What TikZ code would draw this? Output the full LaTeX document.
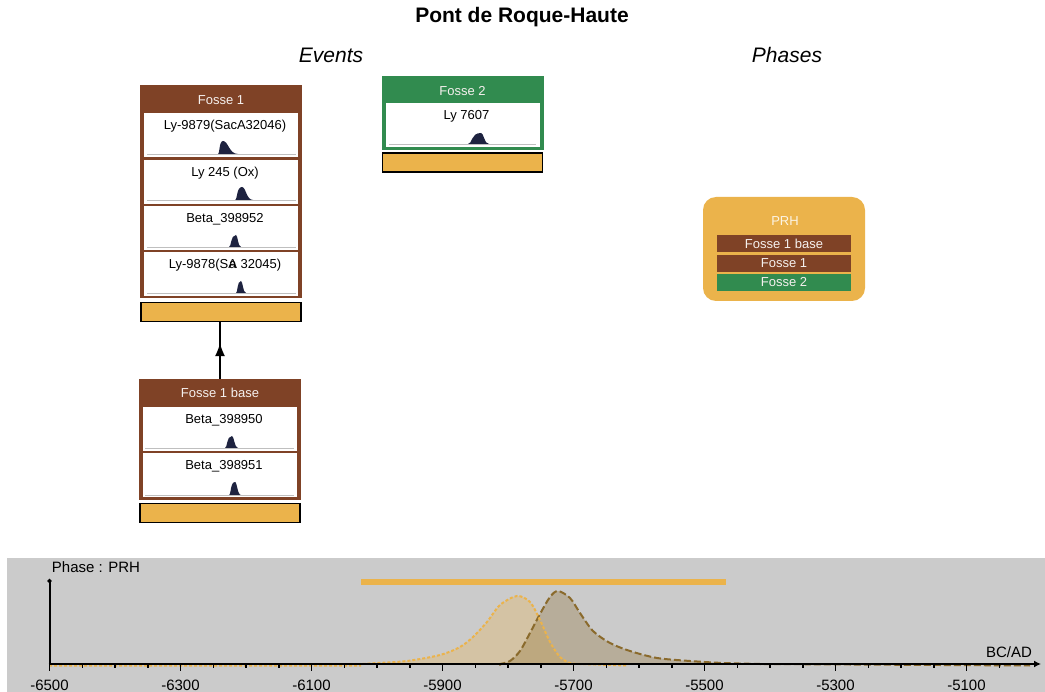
\documentclass[tikz,border=0pt]{standalone}
\usepackage{fontspec}
\setmainfont{Liberation Sans}
\usepackage{tikz}
\usetikzlibrary{arrows.meta,decorations.markings}
\definecolor{fossebrown}{HTML}{7F4226}
\definecolor{fossegreen}{HTML}{318B4F}
\definecolor{prhorange}{HTML}{EBB34B}
\definecolor{curvebrown}{HTML}{8A6A2C}
\definecolor{panelgray}{HTML}{CBCBCB}
\definecolor{densblue}{HTML}{1E2340}
% density: left, peak, right, baseline, height
\newcommand{\density}[5]{\fill[densblue] (#1,#4) .. controls ({#1+0.35*(#2-#1)},#4) and ({#1+0.2*(#2-#1)},{#4-#5}) .. (#2,{#4-#5}) .. controls ({#2+0.35*(#3-#2)},{#4-#5}) and ({#2+0.4*(#3-#2)},#4) .. (#3,#4) -- cycle;}

\begin{document}
\begin{tikzpicture}[x=1pt, y=-1pt, font=\fontsize{13}{15}\selectfont,
  frame/.style={inner sep=0, minimum width=162},
  head/.style={text=white!92!fossebrown},
  sample/.style={fill=white, inner sep=0, minimum width=154, minimum height=44, label={[anchor=center, xshift=4, yshift=-13]north:#1}},
  densline/.style={draw=black!25, line width=0.8},
  bar/.style={draw=black, line width=1.3, fill=prhorange, inner sep=0, minimum width=160, minimum height=19},
  succ/.style={line width=1.3, decoration={markings, mark=at position 0.63 with {\arrow{Latex[length=13pt,width=10pt]}}}, postaction={decorate}},
  phasebar/.style={text=white!92!fossebrown, inner sep=0, minimum width=134, minimum height=17},
  axis/.style={line width=2},
  bigtext/.style={font=\fontsize{15}{17}\selectfont}]
\useasboundingbox (0,0) rectangle (1045,692);

\node[font=\fontsize{21}{25}\selectfont\bfseries] (title) at (522,17) {Pont de Roque-Haute};
\node[font=\fontsize{21}{25}\selectfont\itshape] (events) at (331,55) {Events};
\node[font=\fontsize{21}{25}\selectfont\itshape] (phases) at (787,55) {Phases};

% Fosse 1
\node[frame, fill=fossebrown, minimum height=213] (f1) at (221,191.5) {};
\node[head] (f1head) at (221,100) {Fosse 1};
\node[sample={Ly-9879(SacA32046)}] (f1a) at (221,135.5) {};
\node[sample={Ly 245 (Ox)}] (f1b) at (221,182) {};
\node[sample={Beta\_398952}] (f1c) at (221,228.5) {};
\node[sample={Ly-9878(S\rlap{\kern0.7pt a}A 32045)}] (f1d) at (221,274.5) {};
\node[bar] (f1bar) at (221,312) {};
\draw[densline] (147,154) -- (296,154);
\draw[densline] (147,200) -- (296,200);
\draw[densline] (147,247) -- (296,247);
\draw[densline] (147,293) -- (296,293);
\density{218}{223}{238}{154}{13}
\density{235}{242}{253}{200}{13}
\density{229}{236}{241}{247}{12}
\density{236}{241}{246}{293}{12}

% Fosse 2
\node[frame, fill=fossegreen, minimum height=74] (f2) at (462.5,113) {};
\node[head] (f2head) at (462.5,91) {Fosse 2};
\node[sample={Ly 7607}] (f2a) at (462.5,125.5) {};
\node[bar] (f2bar) at (462.5,162.5) {};
\draw[densline] (389,144) -- (536,144);
\density{468}{481}{489}{144}{11}

% Fosse 1 base
\node[frame, fill=fossebrown, minimum height=121] (base) at (220,439.5) {};
\node[head] (basehead) at (220,393) {Fosse 1 base};
\node[sample={Beta\_398950}] (basea) at (220,429.5) {};
\node[sample={Beta\_398951}] (baseb) at (220,475.5) {};
\node[bar] (basebar) at (220,513) {};
\draw[densline] (145,448) -- (294,448);
\draw[densline] (145,495) -- (294,495);
\density{225}{232}{238}{448}{12}
\density{229}{235}{241}{495}{13}

\draw[succ] (base.north) -- (base.north |- f1bar.south);

% Phases
\node[fill=prhorange, rounded corners=13, minimum width=162, minimum height=104] (prh) at (784,249) {};
\node[text=white!85!prhorange] (prhhead) at (785,221) {PRH};
\node[phasebar, fill=fossebrown] (pbase) at (784,243.5) {Fosse 1 base};
\node[phasebar, fill=fossebrown] (pf1) at (784,263.5) {Fosse 1};
\node[phasebar, fill=fossegreen] (pf2) at (784,282.5) {Fosse 2};

% Phase plot
\fill[panelgray] (7,558) rectangle (1045,692);
\node[bigtext] (phaselabel) at (96,567) {Phase : PRH};
\fill[prhorange] (361,579) rectangle (726,585);
\fill[prhorange, fill opacity=0.3] plot[smooth] coordinates {(360,664) (373,663.3) (407,661) (440,655) (460,647) (473,637) (487,622) (500,605) (517,596) (530,602) (540,620) (550,642) (560,657) (570,663) (580,664)} -- cycle;
\fill[curvebrown, fill opacity=0.3] plot[smooth] coordinates {(500,664) (510,661) (520,651) (530,633) (540,614) (550,597) (558,591) (570,598) (580,613) (593,631) (610,643) (630,651) (657,658) (690,661) (723,663) (760,664)} -- cycle;
\draw[curvebrown, line width=2, dash pattern=on 7pt off 3pt] (500,665.5) -- plot[smooth] coordinates {(500,664) (510,661) (520,651) (530,633) (540,614) (550,597) (558,591) (570,598) (580,613) (593,631) (610,643) (630,651) (657,658) (690,661) (723,663) (760,664)} -- (1030,665.5);
\draw[prhorange, line width=2, dash pattern=on 3pt off 2pt] (49,665.5) -- (360,665.5) -- plot[smooth] coordinates {(360,664) (373,663.3) (407,661) (440,655) (460,647) (473,637) (487,622) (500,605) (517,596) (530,602) (540,620) (550,642) (560,657) (570,663) (580,664)} -- (627,665.5);
\draw[axis, -{Circle[length=4pt]}] (49.5,664) -- (49.5,579);
\draw[axis, -{Latex[length=7pt,width=7pt]}] (48.5,664) -- (1041,664);
\foreach \t [evaluate=\t as \len using {ifthenelse(mod(\t,4)==0,7,4)}] in {0,...,29}
  \draw[line width=1.5] ({49.5+32.75*\t},664) -- ++(0,\len);
\foreach \y [count=\i] in {-6500,-6300,...,-5100}
  \node[bigtext] (lab\i) at ({49.5+0.655*(\y+6500)},685) {\y};
\node[bigtext] (bcad) at (1009,652) {BC/AD};
\end{tikzpicture}
\end{document}
